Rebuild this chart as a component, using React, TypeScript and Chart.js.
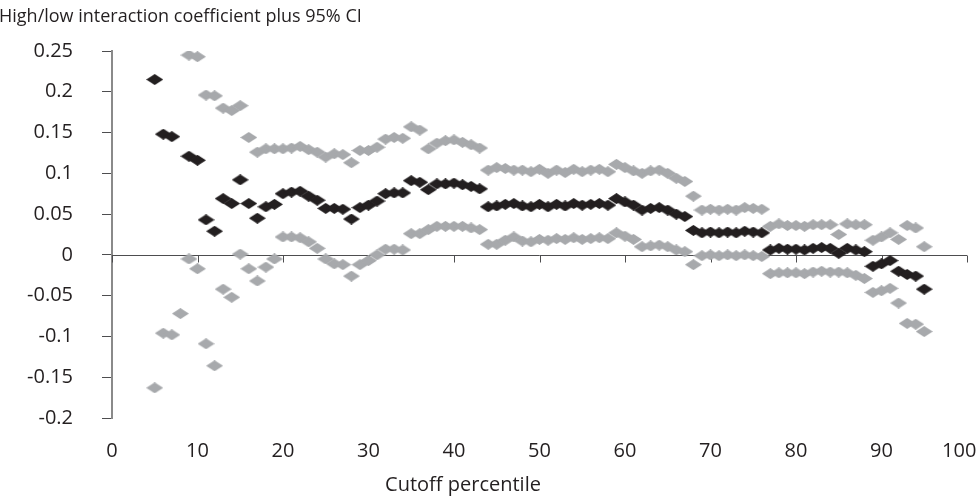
import { useEffect, useRef } from "react";
import { Chart, registerables } from "chart.js";

Chart.register(...registerables);

// Cutoff percentiles (x) and the estimated high/low interaction coefficient with its 95% CI bounds.
const cutoffs = [
  5, 6, 7, 8, 9, 10, 11, 12, 13, 14, 15, 16, 17, 18, 19, 20, 21, 22, 23, 24, 25, 26, 27, 28, 29, 30,
  31, 32, 33, 34, 35, 36, 37, 38, 39, 40, 41, 42, 43, 44, 45, 46, 47, 48, 49, 50, 51, 52, 53, 54, 55,
  56, 57, 58, 59, 60, 61, 62, 63, 64, 65, 66, 67, 68, 69, 70, 71, 72, 73, 74, 75, 76, 77, 78, 79, 80,
  81, 82, 83, 84, 85, 86, 87, 88, 89, 90, 91, 92, 93, 94, 95,
];

const coefficient = [
  0.215, 0.148, 0.145, null, 0.121, 0.116, 0.043, 0.029, 0.069, 0.063, 0.092, 0.063, 0.045, 0.059,
  0.062, 0.075, 0.077, 0.078, 0.072, 0.067, 0.057, 0.057, 0.056, 0.044, 0.058, 0.061, 0.066, 0.075,
  0.076, 0.076, 0.091, 0.089, 0.080, 0.087, 0.087, 0.088, 0.086, 0.084, 0.081, 0.059, 0.060, 0.062,
  0.063, 0.060, 0.059, 0.062, 0.059, 0.062, 0.060, 0.063, 0.061, 0.062, 0.063, 0.061, 0.069, 0.065,
  0.061, 0.055, 0.057, 0.058, 0.055, 0.050, 0.047, 0.030, 0.027, 0.028, 0.027, 0.028, 0.027, 0.029,
  0.028, 0.027, 0.006, 0.008, 0.007, 0.007, 0.006, 0.008, 0.009, 0.008, 0.002, 0.008, 0.006, 0.004,
  -0.014, -0.011, -0.007, -0.020, -0.024, -0.026, -0.042,
];

const upperBound = [
  null, null, null, null, 0.245, 0.243, 0.196, 0.195, 0.180, 0.177, 0.183, 0.144, 0.126, 0.130,
  0.130, 0.130, 0.131, 0.133, 0.129, 0.126, 0.120, 0.124, 0.123, 0.113, 0.128, 0.128, 0.132, 0.142,
  0.144, 0.143, 0.157, 0.153, 0.130, 0.137, 0.140, 0.141, 0.138, 0.135, 0.131, 0.104, 0.107, 0.106,
  0.104, 0.104, 0.102, 0.105, 0.100, 0.104, 0.101, 0.105, 0.102, 0.104, 0.105, 0.102, 0.111, 0.107,
  0.103, 0.100, 0.103, 0.104, 0.100, 0.094, 0.090, 0.072, 0.055, 0.056, 0.055, 0.056, 0.055, 0.058,
  0.057, 0.056, 0.035, 0.038, 0.036, 0.036, 0.035, 0.037, 0.037, 0.037, 0.025, 0.038, 0.037, 0.037,
  0.018, 0.022, 0.027, 0.019, 0.036, 0.033, 0.010,
];

const lowerBound = [
  -0.163, -0.096, -0.098, -0.072, -0.005, -0.017, -0.109, -0.136, -0.042, -0.052, 0.001, -0.017,
  -0.032, -0.015, -0.005, 0.022, 0.022, 0.021, 0.016, 0.008, -0.005, -0.011, -0.012, -0.026, -0.012,
  -0.007, 0.000, 0.007, 0.007, 0.006, 0.026, 0.026, 0.031, 0.035, 0.035, 0.035, 0.035, 0.033, 0.031,
  0.013, 0.013, 0.018, 0.022, 0.017, 0.016, 0.019, 0.018, 0.020, 0.019, 0.021, 0.019, 0.020, 0.021,
  0.020, 0.027, 0.023, 0.019, 0.010, 0.011, 0.012, 0.010, 0.006, 0.004, -0.012, -0.001, 0.000,
  -0.001, 0.000, -0.001, 0.000, -0.001, -0.002, -0.023, -0.022, -0.022, -0.022, -0.023, -0.021,
  -0.020, -0.021, -0.021, -0.022, -0.025, -0.029, -0.046, -0.044, -0.041, -0.059, -0.084, -0.085,
  -0.094,
];

const xTickValues = [0, 10, 20, 30, 40, 50, 60, 70, 80, 90, 100];
const yTickValues = [-0.2, -0.15, -0.1, -0.05, 0, 0.05, 0.1, 0.15, 0.2, 0.25];

const valueTitle = "High/low interaction coefficient plus 95% CI";
const cutoffTitle = "Cutoff percentile";

const INK = "#231f20";
const CI_GREY = "#a7a9ac";
const FONT_FAMILY = "'Open Sans', 'Noto Sans', sans-serif";
const TICK_SIZE = 20;
const TITLE_SIZE = 18;
const AXIS_TITLE_SIZE = 20;

// Wide, flat diamond marker drawn once and reused as a point image.
function diamondMarker(color: string): HTMLCanvasElement {
  const c = document.createElement("canvas");
  c.width = 17;
  c.height = 11;
  const g = c.getContext("2d")!;
  g.fillStyle = color;
  g.beginPath();
  g.moveTo(8.5, 0);
  g.lineTo(17, 5.5);
  g.lineTo(8.5, 11);
  g.lineTo(0, 5.5);
  g.closePath();
  g.fill();
  return c;
}

function toPoints(values: (number | null)[]) {
  return cutoffs.map((x, i) => ({ x, y: values[i] }));
}

// Zero line with its tick marks, plus the two axis captions.
const axisDecor = {
  id: "axisDecor",
  beforeDatasetsDraw(chart: any) {
    const { ctx, chartArea, scales } = chart;
    const y0 = Math.round(scales.y.getPixelForValue(0)) + 0.5;
    ctx.save();
    ctx.strokeStyle = "#4d4d4f";
    ctx.lineWidth = 1;
    ctx.beginPath();
    ctx.moveTo(chartArea.left, y0);
    ctx.lineTo(chartArea.right, y0);
    for (const v of xTickValues) {
      const px = Math.round(scales.x.getPixelForValue(v)) + 0.5;
      ctx.moveTo(px, y0);
      ctx.lineTo(px, y0 + 7);
    }
    ctx.stroke();
    ctx.restore();
  },
  afterDraw(chart: any) {
    const { ctx } = chart;
    ctx.save();
    ctx.fillStyle = INK;
    ctx.textBaseline = "alphabetic";
    ctx.font = `${TITLE_SIZE}px ${FONT_FAMILY}`;
    ctx.textAlign = "left";
    ctx.fillText(valueTitle, -1, 22);
    ctx.font = `${AXIS_TITLE_SIZE}px ${FONT_FAMILY}`;
    ctx.textAlign = "center";
    ctx.fillText(cutoffTitle, 463, 491);
    ctx.restore();
  },
};

export default function App() {
  const canvasRef = useRef<HTMLCanvasElement | null>(null);

  useEffect(() => {
    const canvas = canvasRef.current;
    if (!canvas) return;
    const blackDiamond = diamondMarker(INK);
    const greyDiamond = diamondMarker(CI_GREY);
    const tickFont = { family: FONT_FAMILY, size: TICK_SIZE };

    const chart = new Chart(canvas, {
      type: "scatter",
      data: {
        datasets: [
          {
            label: "Upper 95% CI",
            data: toPoints(upperBound),
            pointStyle: greyDiamond,
            pointRadius: 6,
          },
          {
            label: "Lower 95% CI",
            data: toPoints(lowerBound),
            pointStyle: greyDiamond,
            pointRadius: 6,
          },
          {
            label: "Coefficient",
            data: toPoints(coefficient),
            pointStyle: blackDiamond,
            pointRadius: 6,
          },
        ],
      },
      plugins: [axisDecor],
      options: {
        animation: false,
        responsive: false,
        devicePixelRatio: 1,
        layout: { padding: { top: 51, right: 13, bottom: 0, left: 0 } },
        plugins: {
          legend: { display: false },
          tooltip: { enabled: false },
          title: { display: false },
        },
        scales: {
          x: {
            type: "linear",
            min: 0,
            max: 100,
            afterBuildTicks: (s: any) => {
              s.ticks = xTickValues.map((value) => ({ value }));
            },
            ticks: {
              padding: 21,
              color: INK,
              font: tickFont,
              // the last label is nudged inwards so it stays inside the canvas
              callback: (v: any) => (Number(v) === 100 ? "100   " : String(v)),
            },
            grid: { display: false, drawTicks: false },
            border: { display: false },
            afterFit: (s: any) => {
              s.height = 78;
              s.paddingLeft = 0;
              s.paddingRight = 0;
            },
          },
          y: {
            min: -0.2,
            max: 0.25,
            afterBuildTicks: (s: any) => {
              s.ticks = yTickValues.map((value) => ({ value }));
            },
            ticks: {
              padding: 29,
              color: INK,
              font: tickFont,
              callback: (v: any) => String(Math.round(Number(v) * 100) / 100),
            },
            grid: {
              display: true,
              drawOnChartArea: false,
              drawTicks: true,
              tickLength: 10,
              color: "#4d4d4f",
              lineWidth: 1,
            },
            border: { display: true, color: "#8a8a8a", width: 2 },
            afterFit: (s: any) => {
              s.width = 112;
            },
          },
        },
      },
    } as any);

    return () => chart.destroy();
  }, []);

  return (
    <div style={{ position: "absolute", left: 0, top: 0, width: 980, height: 496 }}>
      <canvas ref={canvasRef} width={980} height={496} style={{ width: 980, height: 496 }} />
    </div>
  );
}
